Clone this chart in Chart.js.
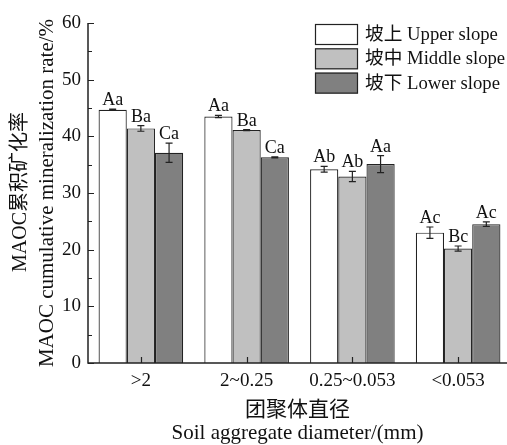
<!DOCTYPE html>
<html>
<head>
<meta charset="utf-8">
<script src="https://cdn.jsdelivr.net/npm/chart.js@4"></script>
<style>
  html, body { margin: 0; padding: 0; background: #fff; overflow: hidden; }
  #wrap { width: 512px; height: 445px; }
</style>
</head>
<body>
<div id="wrap"><canvas id="chart-maoc" width="512" height="445"></canvas></div>
<script>
const categories = ['>2', '2~0.25', '0.25~0.053', '<0.053'];

const upperSlope = [44.7, 43.5, 34.2, 23.0];
const upperErr = [0.1, 0.2, 0.5, 1.0];
const upperLetters = ['Aa', 'Aa', 'Ab', 'Ac'];

const middleSlope = [41.4, 41.1, 32.9, 20.2];
const middleErr = [0.5, 0.1, 0.9, 0.45];
const middleLetters = ['Ba', 'Ba', 'Ab', 'Bc'];

const lowerSlope = [37.1, 36.3, 35.1, 24.5];
const lowerErr = [1.7, 0.1, 1.5, 0.4];
const lowerLetters = ['Ca', 'Ca', 'Aa', 'Ac'];

const seriesLabels = ['坡上 Upper slope', '坡中 Middle slope', '坡下 Lower slope'];
const yTicks = [0, 10, 20, 30, 40, 50, 60];

const serif = "'Liberation Serif', 'Noto Sans CJK SC', serif";
const edge = '#222';

// error bars, letters, axes, titles and legend
const decorPlugin = {
    id: 'decor',
    afterDatasetsDraw: function(chart) {
        const ctx = chart.ctx;
        const y = chart.scales.y;
        const x = chart.scales.x;
        const area = chart.chartArea;
        ctx.save();

        chart.data.datasets.forEach((ds, di) => {
            const meta = chart.getDatasetMeta(di);
            meta.data.forEach((bar, i) => {
                const v = ds.data[i];
                const e = ds.errors[i];
                const top = y.getPixelForValue(v + e);
                const bot = y.getPixelForValue(v - e);
                ctx.strokeStyle = edge;
                ctx.lineWidth = 1.2;
                ctx.beginPath();
                ctx.moveTo(bar.x, top); ctx.lineTo(bar.x, bot);
                ctx.moveTo(bar.x - 3.5, top); ctx.lineTo(bar.x + 3.5, top);
                ctx.moveTo(bar.x - 3.5, bot); ctx.lineTo(bar.x + 3.5, bot);
                ctx.stroke();

                ctx.fillStyle = '#111';
                ctx.font = '18px ' + serif;
                ctx.textAlign = 'center';
                ctx.textBaseline = 'alphabetic';
                ctx.fillText(ds.letters[i], bar.x, Math.min(top, y.getPixelForValue(v)) - 4);
            });
        });

        // axes
        ctx.strokeStyle = edge;
        ctx.lineWidth = 1.5;
        ctx.beginPath();
        ctx.moveTo(area.left, area.top);
        ctx.lineTo(area.left, area.bottom);
        ctx.lineTo(chart.width, area.bottom);
        ctx.stroke();

        ctx.lineWidth = 1.2;
        ctx.beginPath();
        for (let t = 0; t <= 60; t += 5) {
            const py = Math.round(y.getPixelForValue(t)) + 0.5;
            const len = t % 10 === 0 ? 6 : 4;
            ctx.moveTo(area.left, py);
            ctx.lineTo(area.left + len, py);
        }
        categories.forEach((c, i) => {
            const px = Math.round(x.getPixelForValue(i)) + 0.5;
            ctx.moveTo(px, area.bottom);
            ctx.lineTo(px, area.bottom - 6);
        });
        ctx.stroke();

        // axis titles
        ctx.fillStyle = '#111';
        ctx.font = '21px ' + serif;
        ctx.textAlign = 'center';
        ctx.textBaseline = 'middle';
        const cx = (area.left + 507) / 2;
        ctx.fillText('团聚体直径', cx, 410);
        ctx.fillText('Soil aggregate diameter/(mm)', cx, 433);

        const cy = (area.top + area.bottom) / 2;
        ctx.save();
        ctx.translate(21, cy - 1);
        ctx.rotate(-Math.PI / 2);
        ctx.font = '20px ' + serif;
        ctx.fillText('MAOC累积矿化率', 0, 0);
        ctx.restore();
        ctx.save();
        ctx.translate(47, cy);
        ctx.rotate(-Math.PI / 2);
        ctx.fillText('MAOC cumulative mineralization rate/%', 0, 0);
        ctx.restore();

        // legend
        ctx.textAlign = 'left';
        ctx.font = '18.7px ' + serif;
        chart.data.datasets.forEach((ds, di) => {
            const by = 24 + di * 24.3;
            ctx.fillStyle = ds.backgroundColor;
            ctx.fillRect(315, by, 43, 21);
            ctx.strokeStyle = edge;
            ctx.lineWidth = 1.2;
            ctx.strokeRect(315.5, by + 0.5, 42, 20);
            ctx.fillStyle = '#111';
            ctx.fillText(ds.label, 365, by + 11);
        });

        ctx.restore();
    }
};

const chart = new Chart(document.getElementById('chart-maoc'), {
    type: 'bar',
    data: {
        labels: categories,
        datasets: [
            { label: seriesLabels[0], data: upperSlope, errors: upperErr, letters: upperLetters,
              backgroundColor: '#ffffff', borderColor: edge, borderWidth: 1.2 },
            { label: seriesLabels[1], data: middleSlope, errors: middleErr, letters: middleLetters,
              backgroundColor: '#c0c0c0', borderColor: edge, borderWidth: 1.2 },
            { label: seriesLabels[2], data: lowerSlope, errors: lowerErr, letters: lowerLetters,
              backgroundColor: '#808080', borderColor: edge, borderWidth: 1.2 }
        ]
    },
    options: {
        responsive: false,
        animation: false,
        devicePixelRatio: 1,
        layout: { padding: { top: 23, left: 0, right: 1, bottom: 0 } },
        datasets: { bar: { categoryPercentage: 0.8, barPercentage: 1 } },
        scales: {
            x: {
                grid: { display: false, drawTicks: false },
                border: { display: false },
                ticks: { color: '#111', font: { family: serif, size: 19 }, padding: 7, maxRotation: 0 },
                afterFit: s => { s.height = 82; }
            },
            y: {
                min: 0, max: 60,
                afterBuildTicks: s => { s.ticks = yTicks.map(v => ({ value: v })); },
                grid: { display: false, drawTicks: false },
                border: { display: false },
                ticks: { color: '#111', font: { family: serif, size: 19 }, padding: 7 },
                afterFit: s => { s.width = 88; }
            }
        },
        plugins: {
            legend: { display: false },
            tooltip: { enabled: false }
        }
    },
    plugins: [decorPlugin]
});
</script>
</body>
</html>
